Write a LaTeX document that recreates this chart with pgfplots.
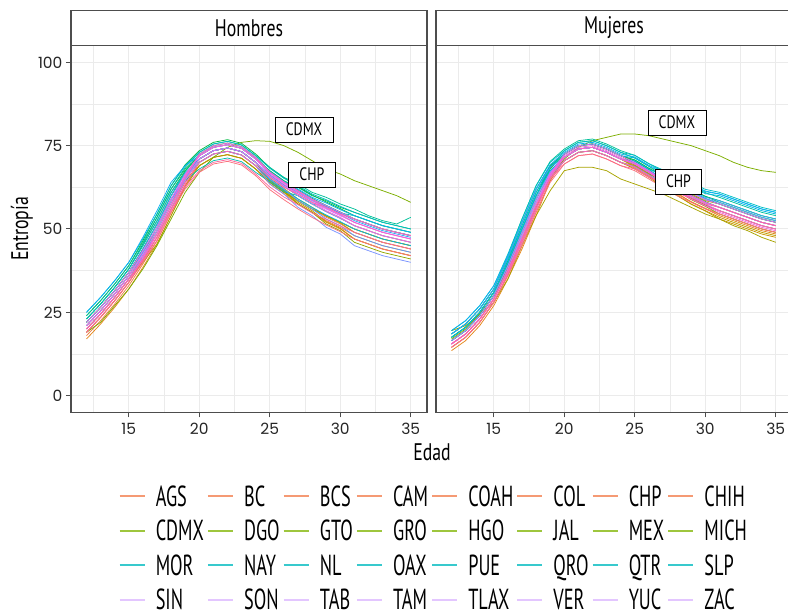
\documentclass[border=0pt]{standalone}
\usepackage{fontspec}
\setmainfont{PT Sans}
\newfontfamily\stripfam[FakeStretch=0.74]{PT Sans}
\newfontfamily\legfam[FakeStretch=0.63]{PT Sans}
\newfontfamily\labfam[FakeStretch=0.77]{PT Sans}
\newfontfamily\tickfam{Poppins}
\usepackage{pgfplots}
\usepackage{pgfplotstable}
\pgfplotsset{compat=1.18}
\newcommand\stripfont{\stripfam\fontsize{24}{28}\selectfont}
\newcommand\legfont{\legfam\fontsize{29}{32}\selectfont}
\newcommand\labfont{\labfam\fontsize{18}{21}\selectfont}
\newcommand\tickfont{\tickfam\fontsize{15.5}{18}\selectfont}

\definecolor{gridc}{HTML}{EBEBEB}
\definecolor{borderc}{HTML}{4D4D4D}
\definecolor{colAGS}{HTML}{F8766D}
\definecolor{colBC}{HTML}{EE7E44}
\definecolor{colBCS}{HTML}{E5871B}
\definecolor{colCAM}{HTML}{D98E00}
\definecolor{colCOAH}{HTML}{CB9600}
\definecolor{colCOL}{HTML}{BC9D00}
\definecolor{colCHP}{HTML}{A8A300}
\definecolor{colCHIH}{HTML}{92A800}
\definecolor{colCDMX}{HTML}{7CAE00}
\definecolor{colDGO}{HTML}{4EB215}
\definecolor{colGTO}{HTML}{1FB72A}
\definecolor{colGRO}{HTML}{00BB42}
\definecolor{colHGO}{HTML}{00BD62}
\definecolor{colJAL}{HTML}{00BF81}
\definecolor{colMEX}{HTML}{00C099}
\definecolor{colMICH}{HTML}{00BFAF}
\definecolor{colMOR}{HTML}{00BFC4}
\definecolor{colNAY}{HTML}{00BBD4}
\definecolor{colNL}{HTML}{00B7E5}
\definecolor{colOAX}{HTML}{0CB1F2}
\definecolor{colPUE}{HTML}{30A8F7}
\definecolor{colQRO}{HTML}{559FFD}
\definecolor{colQTR}{HTML}{7A94FF}
\definecolor{colSLP}{HTML}{A188FF}
\definecolor{colSIN}{HTML}{C77CFF}
\definecolor{colSON}{HTML}{D873F4}
\definecolor{colTAB}{HTML}{E96AEA}
\definecolor{colTAM}{HTML}{F664DD}
\definecolor{colTLAX}{HTML}{FA64CA}
\definecolor{colVER}{HTML}{FE64B6}
\definecolor{colYUC}{HTML}{FD68A0}
\definecolor{colZAC}{HTML}{FB717C}
\definecolor{legA}{HTML}{F59A74}
\definecolor{legB}{HTML}{9EC63E}
\definecolor{legC}{HTML}{38C9CD}
\definecolor{legD}{HTML}{E3C6FF}

\pgfplotstableread{
state a12 a13 a14 a15 a16 a17 a18 a19 a20 a21 a22 a23 a24 a25 a26 a27 a28 a29 a30 a31 a32 a33 a34 a35
age 12 13 14 15 16 17 18 19 20 21 22 23 24 25 26 27 28 29 30 31 32 33 34 35
AGS 19.0 23.5 28.5 34.0 40.5 47.5 56.0 64.0 70.0 72.5 73.3 72.2 69.0 64.5 61.5 58.5 56.0 53.5 51.5 49.0 47.5 46.0 45.0 44.0
BC 18.0 22.5 27.5 33.0 39.5 46.5 55.0 63.0 69.0 71.5 72.3 71.2 68.0 63.5 60.5 57.5 55.0 52.5 50.5 48.0 46.5 45.0 44.0 43.0
BCS 17.0 21.5 26.5 32.0 38.5 45.5 54.0 63.0 70.0 72.5 73.3 72.2 69.0 64.0 61.0 57.5 55.0 52.0 50.0 47.0 45.5 44.0 43.0 42.0
CAM 20.0 24.5 29.5 35.0 42.0 49.5 58.0 64.5 69.0 71.5 72.3 71.2 68.0 64.0 61.0 58.5 56.0 54.0 52.0 50.0 48.5 47.0 46.0 45.0
COAH 19.0 23.5 28.5 34.0 40.5 47.5 56.0 64.5 71.0 73.5 74.3 73.2 70.0 64.8 61.8 58.0 55.5 52.2 50.2 47.0 45.5 44.0 43.0 42.0
COL 22.0 26.5 31.5 37.0 43.0 49.5 58.0 65.5 71.0 73.5 74.3 73.2 70.0 65.2 62.2 59.0 56.5 53.8 51.8 49.0 47.5 46.0 45.0 44.0
CHP 20.0 24.5 29.5 35.0 40.0 45.5 54.0 62.5 69.0 71.5 72.3 71.2 68.0 64.0 61.0 58.5 56.0 54.0 52.0 50.0 48.5 47.0 46.0 45.0
CHIH 21.0 25.5 30.5 36.0 42.0 48.5 57.0 65.0 71.0 73.5 74.3 73.2 70.0 64.5 61.5 57.5 55.0 51.5 49.5 46.0 44.5 43.0 42.0 41.0
CDMX 19.0 22.0 27.0 32.0 38.0 45.0 53.0 61.0 67.0 71.5 74.5 76.0 76.5 76.3 75.0 73.0 70.5 68.0 66.5 64.5 63.0 61.5 60.0 58.0
DGO 22.0 26.5 31.5 37.0 44.0 51.5 60.0 66.5 71.0 73.5 74.3 73.2 70.0 65.8 62.8 60.0 57.5 55.2 53.2 51.0 49.5 48.0 47.0 46.0
GTO 23.0 27.5 32.5 38.0 45.0 52.5 61.0 67.5 72.0 74.5 75.3 74.2 71.0 67.0 64.0 61.5 59.0 57.0 55.0 53.0 51.5 50.0 49.0 48.0
GRO 24.0 28.5 33.5 39.0 46.5 54.5 63.0 69.3 73.5 76.0 76.8 75.7 72.5 68.4 65.4 62.7 60.2 58.1 56.1 54.0 52.5 51.0 50.0 49.0
HGO 23.0 27.5 32.5 38.0 45.5 53.5 62.0 68.0 72.0 74.5 75.3 74.2 71.0 67.5 64.5 62.5 60.0 58.5 56.5 55.0 53.5 52.0 51.0 50.0
JAL 22.0 26.5 31.5 37.0 44.0 51.5 60.0 67.3 72.5 75.0 75.8 74.7 71.5 67.4 64.4 61.7 59.2 57.1 55.1 53.0 51.5 50.0 49.0 48.0
MEX 24.0 28.5 33.5 39.0 46.0 53.5 62.0 68.5 73.0 75.5 76.3 75.2 72.0 68.5 65.5 63.5 61.0 59.5 57.5 56.0 54.0 52.5 51.5 53.5
MICH 21.0 25.5 30.5 36.0 43.0 50.5 59.0 64.5 68.0 70.5 71.3 70.2 67.0 64.2 61.2 60.0 57.5 56.8 54.8 54.0 52.5 51.0 50.0 49.0
MOR 25.0 29.5 34.5 40.0 47.0 54.5 63.0 69.0 73.0 75.5 76.3 75.2 72.0 68.2 65.2 63.0 60.5 58.8 56.8 55.0 53.5 52.0 51.0 50.0
NAY 23.0 27.5 32.5 38.0 45.0 52.5 61.0 67.0 71.0 73.5 74.3 73.2 70.0 66.2 63.2 61.0 58.5 56.8 54.8 53.0 51.5 50.0 49.0 48.0
NL 21.0 25.5 30.5 36.0 43.0 50.5 59.0 65.5 70.0 72.5 73.3 72.2 69.0 64.8 61.8 59.0 56.5 54.2 52.2 50.0 48.5 47.0 46.0 45.0
OAX 25.0 29.5 34.5 40.0 47.5 55.5 64.0 69.0 72.0 74.5 75.3 74.2 71.0 67.2 64.2 62.0 59.5 57.8 55.8 54.0 52.5 51.0 50.0 49.0
PUE 22.0 26.5 31.5 37.0 44.0 51.5 60.0 66.5 71.0 73.5 74.3 73.2 70.0 66.2 63.2 61.0 58.5 56.8 54.8 52.5 51.0 49.5 48.5 47.5
QRO 20.0 24.5 29.5 35.0 42.0 49.5 58.0 65.5 71.0 73.5 74.3 73.2 70.0 65.0 62.0 58.5 56.0 53.0 51.0 48.0 46.5 45.0 44.0 43.0
QTR 21.0 25.5 30.5 36.0 43.0 50.5 59.0 65.5 70.0 72.5 73.3 72.2 69.0 63.5 60.5 56.5 54.0 50.5 48.5 45.0 43.5 42.0 41.0 40.0
SLP 20.0 24.5 29.5 35.0 41.5 48.5 57.0 65.0 71.0 73.5 74.3 73.2 70.0 65.8 62.8 60.0 57.5 55.2 53.2 51.0 49.5 48.0 47.0 46.0
SIN 21.0 25.5 30.5 36.0 42.5 49.5 58.0 66.0 72.0 74.5 75.3 74.2 71.0 66.8 63.8 61.0 58.5 56.2 54.2 52.0 50.5 49.0 48.0 47.0
SON 20.0 24.5 29.5 35.0 41.0 47.5 56.0 64.5 71.0 73.5 74.3 73.2 70.0 66.0 63.0 60.5 58.0 56.0 54.0 52.0 50.5 49.0 48.0 47.0
TAB 22.0 26.5 31.5 37.0 43.5 50.5 59.0 66.5 72.0 74.5 75.3 74.2 71.0 67.0 64.0 61.5 59.0 57.0 55.0 53.0 51.5 50.0 49.0 48.0
TAM 21.0 25.5 30.5 36.0 42.0 48.5 57.0 65.5 72.0 74.5 75.3 74.2 71.0 66.5 63.5 60.5 58.0 55.5 53.5 51.0 49.5 48.0 47.0 46.0
TLAX 19.0 23.5 28.5 34.0 41.0 48.5 57.0 65.7 72.5 75.0 75.8 74.7 71.5 67.1 64.1 61.3 58.8 56.4 54.4 52.0 50.5 49.0 48.0 47.0
VER 20.0 24.5 29.5 35.0 40.5 46.5 55.0 63.5 70.0 72.5 73.3 72.2 69.0 65.5 62.5 60.5 58.0 56.5 54.5 53.0 51.5 50.0 49.0 48.0
YUC 20.0 24.5 29.5 35.0 41.0 47.5 56.0 62.7 67.5 70.0 70.8 69.7 66.5 62.6 59.6 57.3 54.8 52.9 50.9 49.0 47.5 46.0 45.0 44.0
ZAC 19.0 23.5 28.5 34.0 40.0 46.5 55.0 62.0 67.0 69.5 70.3 69.2 66.0 61.8 58.8 56.0 53.5 51.2 49.2 47.0 45.5 44.0 43.0 42.0
}\Hraw

\pgfplotstableread{
state a12 a13 a14 a15 a16 a17 a18 a19 a20 a21 a22 a23 a24 a25 a26 a27 a28 a29 a30 a31 a32 a33 a34 a35
age 12 13 14 15 16 17 18 19 20 21 22 23 24 25 26 27 28 29 30 31 32 33 34 35
AGS 15.5 18.5 23.0 29.0 37.5 47.0 57.0 66.0 71.5 74.0 74.5 73.0 71.0 69.3 66.8 64.0 61.5 59.2 57.2 55.5 54.0 52.5 51.0 50.0
BC 14.5 17.5 22.0 28.0 36.0 45.0 55.0 64.5 70.5 73.0 73.5 72.0 70.0 68.3 65.8 63.0 60.5 58.2 56.2 54.5 53.0 51.5 50.0 49.0
BCS 13.5 16.5 21.0 27.0 35.0 44.0 54.0 64.5 71.5 74.0 74.5 73.0 71.0 68.9 66.4 63.3 60.8 58.1 56.1 54.0 52.5 51.0 49.5 48.5
CAM 16.5 19.5 24.0 30.0 38.5 48.0 58.0 66.0 70.5 73.0 73.5 72.0 70.0 69.0 66.5 64.5 62.0 60.5 58.5 57.5 56.0 54.5 53.0 52.0
COAH 14.5 17.5 22.0 28.0 36.5 46.0 56.0 65.5 71.5 74.0 74.5 73.0 71.0 68.6 66.1 62.7 60.2 57.4 55.4 53.0 51.5 50.0 48.5 47.5
COL 17.5 20.5 25.0 31.0 39.5 49.0 59.0 66.5 70.5 73.0 73.5 72.0 70.0 68.0 65.5 62.5 60.0 57.5 55.5 53.5 52.0 50.5 49.0 48.0
CHP 19.5 21.0 24.5 28.0 35.0 45.0 54.0 61.5 67.5 68.5 68.5 67.5 65.0 63.5 62.0 60.5 58.5 56.5 54.5 53.0 51.0 49.5 47.5 46.0
CHIH 16.5 19.5 24.0 30.0 37.5 46.0 56.0 66.0 72.5 75.0 75.5 74.0 72.0 69.7 67.2 64.0 61.5 58.8 56.8 54.5 53.0 51.5 50.0 49.0
CDMX 17.0 20.0 24.5 30.0 38.0 47.0 56.5 65.0 71.0 74.5 76.5 77.5 78.5 78.5 78.0 77.0 76.0 75.0 73.5 72.0 70.0 68.5 67.5 67.0
DGO 16.5 19.5 24.0 30.0 39.0 49.0 59.0 67.0 71.5 74.0 74.5 73.0 71.0 69.3 66.8 64.0 61.5 59.2 57.2 55.5 54.0 52.5 51.0 50.0
GTO 17.5 20.5 25.0 31.0 40.0 50.0 60.0 68.0 72.5 75.0 75.5 74.0 72.0 70.3 67.8 65.0 62.5 60.2 58.2 56.5 55.0 53.5 52.0 51.0
GRO 18.5 21.5 26.0 32.0 41.5 52.0 62.0 69.0 72.5 75.0 75.5 74.0 72.0 70.7 68.2 66.0 63.5 61.8 59.8 58.5 57.0 55.5 54.0 53.0
HGO 17.5 20.5 25.0 31.0 40.5 51.0 61.0 68.5 72.5 75.0 75.5 74.0 72.0 70.7 68.2 66.0 63.5 61.8 59.8 58.0 56.5 55.0 53.5 52.5
JAL 16.5 19.5 24.0 30.0 39.5 50.0 60.0 68.5 73.5 76.0 76.5 75.0 73.0 71.3 68.8 66.0 63.5 61.2 59.2 57.5 56.0 54.5 53.0 52.0
MEX 18.5 21.5 26.0 32.0 42.0 53.0 63.0 70.3 74.0 76.5 77.0 75.5 73.5 72.1 69.6 67.3 64.8 62.9 60.9 59.5 58.0 56.5 55.0 54.0
MICH 17.5 20.5 25.0 31.0 40.0 50.0 60.0 67.5 71.5 74.0 74.5 73.0 71.0 69.7 67.2 65.0 62.5 60.8 58.8 57.5 56.0 54.5 53.0 52.0
MOR 19.5 22.5 27.0 33.0 42.5 53.0 63.0 70.0 73.5 76.0 76.5 75.0 73.0 72.1 69.6 67.7 65.2 63.9 61.9 61.0 59.5 58.0 56.5 55.5
NAY 18.5 21.5 26.0 32.0 41.0 51.0 61.0 68.5 72.5 75.0 75.5 74.0 72.0 71.3 68.8 67.0 64.5 63.2 61.2 60.5 59.0 57.5 56.0 55.0
NL 17.5 20.5 25.0 31.0 40.0 50.0 60.0 67.5 71.5 74.0 74.5 73.0 71.0 70.4 67.9 66.3 63.8 62.6 60.6 60.0 58.5 57.0 55.5 54.5
OAX 19.5 22.5 27.0 33.0 42.0 52.0 62.0 69.3 73.0 75.5 76.0 74.5 72.5 71.6 69.1 67.3 64.8 63.4 61.4 60.5 59.0 57.5 56.0 55.0
PUE 18.5 21.5 26.0 32.0 41.5 52.0 62.0 68.5 71.5 74.0 74.5 73.0 71.0 70.0 67.5 65.5 63.0 61.5 59.5 58.5 57.0 55.5 54.0 53.0
QRO 16.5 19.5 24.0 30.0 39.0 49.0 59.0 67.0 71.5 74.0 74.5 73.0 71.0 69.9 67.4 65.3 62.8 61.1 59.1 58.0 56.5 55.0 53.5 52.5
QTR 15.5 18.5 23.0 29.0 38.0 48.0 58.0 66.0 70.5 73.0 73.5 72.0 70.0 68.7 66.2 64.0 61.5 59.8 57.8 56.5 55.0 53.5 52.0 51.0
SLP 16.5 19.5 24.0 30.0 39.0 49.0 59.0 67.0 71.5 74.0 74.5 73.0 71.0 69.5 67.0 64.5 62.0 60.0 58.0 56.5 55.0 53.5 52.0 51.0
SIN 15.5 18.5 23.0 29.0 38.0 48.0 58.0 66.5 71.5 74.0 74.5 73.0 71.0 69.5 67.0 64.5 62.0 60.0 58.0 56.5 55.0 53.5 52.0 51.0
SON 15.5 18.5 23.0 29.0 37.5 47.0 57.0 66.5 72.5 75.0 75.5 74.0 72.0 70.0 67.5 64.5 62.0 59.5 57.5 55.5 54.0 52.5 51.0 50.0
TAB 15.5 18.5 23.0 29.0 37.5 47.0 57.0 66.0 71.5 74.0 74.5 73.0 71.0 69.7 67.2 65.0 62.5 60.8 58.8 57.5 56.0 54.5 53.0 52.0
TAM 15.5 18.5 23.0 29.0 37.5 47.0 57.0 66.3 72.0 74.5 75.0 73.5 71.5 69.5 67.0 64.0 61.5 59.0 57.0 55.0 53.5 52.0 50.5 49.5
TLAX 15.5 18.5 23.0 29.0 37.0 46.0 56.0 65.5 71.5 74.0 74.5 73.0 71.0 69.5 67.0 64.5 62.0 60.0 58.0 56.5 55.0 53.5 52.0 51.0
VER 14.5 17.5 22.0 28.0 36.5 46.0 56.0 65.0 70.5 73.0 73.5 72.0 70.0 68.5 66.0 63.5 61.0 59.0 57.0 55.5 54.0 52.5 51.0 50.0
YUC 15.5 18.5 23.0 29.0 37.5 47.0 57.0 65.0 69.5 72.0 72.5 71.0 69.0 68.0 65.5 63.5 61.0 59.5 57.5 56.5 55.0 53.5 52.0 51.0
ZAC 14.5 17.5 22.0 28.0 36.0 45.0 55.0 64.0 69.5 72.0 72.5 71.0 69.0 67.5 65.0 62.5 60.0 58.0 56.0 54.5 53.0 51.5 50.0 49.0
}\Mraw

\pgfplotstabletranspose[colnames from=state]{\Htab}{\Hraw}
\pgfplotstabletranspose[colnames from=state]{\Mtab}{\Mraw}

\tikzset{
  statelab/.style={draw=black, fill=white, line width=0.8pt, font=\labfont,
    inner xsep=10.7pt, inner ysep=0pt, minimum height=25pt},
}
\pgfplotsset{
  every axis title shift=0pt,
  panel/.style={
    scale only axis, width=356pt, height=366.6pt,
    xmin=10.9, xmax=36.15, ymin=-5, ymax=105,
    xtick={15,20,25,30,35}, minor xtick={12.5,17.5,22.5,27.5,32.5},
    ytick={0,25,50,75,100}, minor ytick={12.5,37.5,62.5,87.5},
    grid=both,
    major grid style={draw=gridc, line width=1pt},
    minor grid style={draw=gridc, line width=0.55pt},
    axis line style={draw=borderc, line width=1.1pt},
    tick style={draw=borderc, line width=1pt},
    tick align=outside, major tick length=5pt, minor tick length=0pt,
    xtick pos=bottom,
    ticklabel style={font=\tickfont, text=black!85},
    xticklabel style={yshift=-2.5pt},
    /pgf/number format/assume math mode=true,
    title style={at={(0.5,1)}, anchor=south, draw=borderc, line width=1.1pt,
      fill=white, minimum width=356pt, minimum height=34.7pt, inner sep=0pt,
      font=\stripfont},
  },
  stline/.style={line width=0.75pt, forget plot},
}

\begin{document}
\begin{tikzpicture}[x=1pt,y=1pt]
\path[use as bounding box] (0,0) rectangle (788,610);

\begin{axis}[panel, at={(71pt,197.7pt)}, anchor=south west, title={Hombres},
  ytick pos=left,
  legend columns=8,
  legend cell align=left,
  legend image code/.code={\draw[#1, line width=2pt] (0pt,0pt) -- (25pt,0pt);},
  legend style={draw=none, fill=none, inner sep=0pt, font=\legfont,
    at={(axis description cs:0.1331,-0.2006)}, anchor=north west,
    row sep=14.2pt,
    nodes={inner sep=0pt, text height=20.3pt, text depth=0pt},
    /tikz/every odd column/.append style={column sep=10.2pt},
    /tikz/every even column/.append style={column sep=3pt}},
]
\pgfplotsinvokeforeach{AGS,BC,BCS,CAM,COAH,COL,CHP,CHIH,CDMX,DGO,GTO,GRO,HGO,JAL,MEX,MICH,MOR,NAY,NL,OAX,PUE,QRO,QTR,SLP,SIN,SON,TAB,TAM,TLAX,VER,YUC,ZAC}{
  \addplot[stline, color=col#1] table[x=age, y=#1] {\Htab};
}
\node[statelab] at (axis cs:27.43,79.85) {CDMX};
\node[statelab] at (axis cs:27.99,66.35) {CHP};
\addlegendimage{legA}\addlegendentry{AGS}
\addlegendimage{legA}\addlegendentry{BC}
\addlegendimage{legA}\addlegendentry{BCS}
\addlegendimage{legA}\addlegendentry{CAM}
\addlegendimage{legA}\addlegendentry{COAH}
\addlegendimage{legA}\addlegendentry{COL}
\addlegendimage{legA}\addlegendentry{CHP}
\addlegendimage{legA}\addlegendentry{CHIH}
\addlegendimage{legB}\addlegendentry{CDMX}
\addlegendimage{legB}\addlegendentry{DGO}
\addlegendimage{legB}\addlegendentry{GTO}
\addlegendimage{legB}\addlegendentry{GRO}
\addlegendimage{legB}\addlegendentry{HGO}
\addlegendimage{legB}\addlegendentry{JAL}
\addlegendimage{legB}\addlegendentry{MEX}
\addlegendimage{legB}\addlegendentry{MICH}
\addlegendimage{legC}\addlegendentry{MOR}
\addlegendimage{legC}\addlegendentry{NAY}
\addlegendimage{legC}\addlegendentry{NL}
\addlegendimage{legC}\addlegendentry{OAX}
\addlegendimage{legC}\addlegendentry{PUE}
\addlegendimage{legC}\addlegendentry{QRO}
\addlegendimage{legC}\addlegendentry{QTR}
\addlegendimage{legC}\addlegendentry{SLP}
\addlegendimage{legD}\addlegendentry{SIN}
\addlegendimage{legD}\addlegendentry{SON}
\addlegendimage{legD}\addlegendentry{TAB}
\addlegendimage{legD}\addlegendentry{TAM}
\addlegendimage{legD}\addlegendentry{TLAX}
\addlegendimage{legD}\addlegendentry{VER}
\addlegendimage{legD}\addlegendentry{YUC}
\addlegendimage{legD}\addlegendentry{ZAC}
\end{axis}

\begin{axis}[panel, at={(436pt,197.7pt)}, anchor=south west, title={Mujeres},
  ytick pos=right, yticklabels={}]
\pgfplotsinvokeforeach{AGS,BC,BCS,CAM,COAH,COL,CHP,CHIH,CDMX,DGO,GTO,GRO,HGO,JAL,MEX,MICH,MOR,NAY,NL,OAX,PUE,QRO,QTR,SLP,SIN,SON,TAB,TAM,TLAX,VER,YUC,ZAC}{
  \addplot[stline, color=col#1] table[x=age, y=#1] {\Mtab};
}
\node[statelab] at (axis cs:27.99,81.95) {CDMX};
\node[statelab] at (axis cs:28.1,64.25) {CHP};
\end{axis}

\node[font=\stripfont] at (432,158) {Edad};
\node[font=\stripfont, rotate=90] at (22,381) {Entropía};
\end{tikzpicture}
\end{document}
